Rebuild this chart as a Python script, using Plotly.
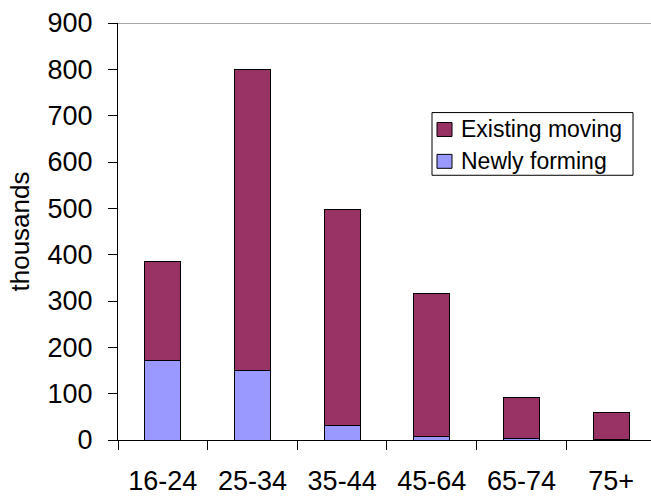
import plotly.graph_objects as go

# Households by age of head (thousands)
age_groups = ["16-24", "25-34", "35-44", "45-64", "65-74", "75+"]
newly_forming = [172, 150, 31, 7, 4, 2]
existing_total = [386, 799, 498, 316, 91, 59]
existing_moving = [t - n for t, n in zip(existing_total, newly_forming)]

y_ticks = [0, 100, 200, 300, 400, 500, 600, 700, 800, 900]

legend_labels = ["Existing moving", "Newly forming"]

MAROON = "#993366"
LAVENDER = "#9999FF"
FONT = "Liberation Sans, Arial, sans-serif"

W, H = 651, 496
L, R, T, B = 118, 0, 23, 54
PW, PH = W - L - R, H - T - B


def px_x(px):
    """Pixel column -> paper x."""
    return (px - L) / PW


def px_y(py):
    """Pixel row -> paper y."""
    return (H - B - py) / PH


fig = go.Figure()

fig.add_trace(go.Bar(
    x=age_groups, y=newly_forming, name="Newly forming",
    marker=dict(color=LAVENDER, line=dict(color="black", width=1)),
    width=0.4, showlegend=False,
))
fig.add_trace(go.Bar(
    x=age_groups, y=existing_moving, name="Existing moving",
    marker=dict(color=MAROON, line=dict(color="black", width=1)),
    width=0.4, showlegend=False,
))

# Boxed legend in the upper right of the plot area
shapes = [
    dict(type="line", xref="paper", yref="y", x0=0, x1=1, y0=900, y1=900,
         line=dict(color="#A8A8A8", width=2), layer="below"),
    dict(type="rect", xref="paper", yref="paper",
         x0=px_x(432), x1=px_x(633), y0=px_y(176), y1=px_y(113),
         line=dict(color="black", width=1), fillcolor="white"),
]
annotations = []
for label, color, y_top in zip(legend_labels, [MAROON, LAVENDER], [123, 155]):
    shapes.append(dict(
        type="rect", xref="paper", yref="paper",
        x0=px_x(437), x1=px_x(452), y0=px_y(y_top + 14), y1=px_y(y_top),
        line=dict(color="black", width=1), fillcolor=color,
    ))
    annotations.append(dict(
        text=label, xref="paper", yref="paper",
        x=px_x(459), y=px_y(y_top + 7), xanchor="left", yanchor="middle",
        showarrow=False, font=dict(size=23, family=FONT, color="black"),
    ))

fig.update_layout(
    barmode="stack",
    width=W, height=H,
    margin=dict(l=L, r=R, t=T, b=B),
    paper_bgcolor="white", plot_bgcolor="white",
    font=dict(family=FONT, color="black", size=27),
    showlegend=False,
    xaxis=dict(
        type="category",
        range=[-0.5, 5.445],
        showline=True, linecolor="black", linewidth=1,
        ticks="outside", ticklen=9, tickcolor="black",
        tickson="boundaries",
        ticklabelstandoff=17,
        showgrid=False, zeroline=False,
        tickfont=dict(size=27),
    ),
    yaxis=dict(
        range=[0, 900],
        tickvals=y_ticks,
        showline=True, linecolor="black", linewidth=1,
        ticks="outside", ticklen=9, tickcolor="black",
        ticklabelstandoff=10,
        showgrid=False, zeroline=False,
        tickfont=dict(size=27),
        title=dict(text="thousands", font=dict(size=26), standoff=10),
    ),
    shapes=shapes,
    annotations=annotations,
)

fig.write_html("out.html")
